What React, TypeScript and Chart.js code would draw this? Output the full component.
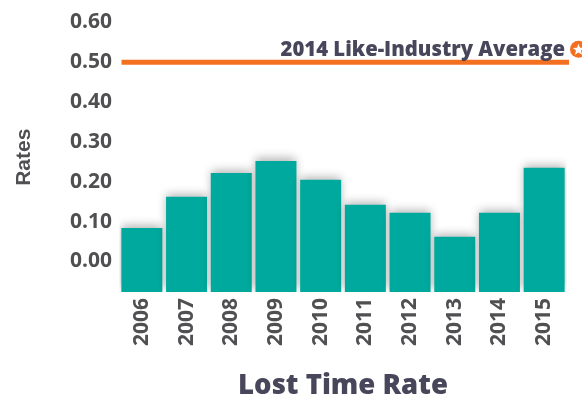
import React, { useEffect, useRef } from "react";
import { Chart, registerables } from "chart.js";

Chart.register(...registerables);

const years = ["2006", "2007", "2008", "2009", "2010", "2011", "2012", "2013", "2014", "2015"];
const lostTimeRates = [0.084, 0.162, 0.222, 0.252, 0.205, 0.142, 0.122, 0.062, 0.122, 0.235];
const yTickValues = [0, 0.1, 0.2, 0.3, 0.4, 0.5, 0.6];
const industryAverage = 0.5;
const industryAverageLabel = "2014 Like-Industry Average";
const axisMin = -0.077;
const axisMax = 0.6;

const TEAL = "#00a99d";
const ORANGE = "#f37021";
const SLATE = "#48465a";
const GRAY = "#505053";

const barShadow = {
  id: "barShadow",
  beforeDatasetDraw(chart: any) {
    const ctx = chart.ctx;
    ctx.save();
    ctx.shadowColor = "rgba(0,0,0,0.3)";
    ctx.shadowBlur = 9;
    ctx.shadowOffsetX = 0;
    ctx.shadowOffsetY = -3;
  },
  afterDatasetDraw(chart: any) {
    chart.ctx.restore();
  },
};

const averageLine = {
  id: "averageLine",
  afterDatasetsDraw(chart: any) {
    const { ctx, chartArea, scales } = chart;
    const y = scales.y.getPixelForValue(industryAverage);
    ctx.save();
    ctx.strokeStyle = ORANGE;
    ctx.lineWidth = 5;
    ctx.beginPath();
    ctx.moveTo(chartArea.left + 2, y);
    ctx.lineTo(chartArea.right + 2.5, y);
    ctx.stroke();

    ctx.fillStyle = SLATE;
    ctx.font = "800 20.3px 'Open Sans'";
    ctx.textAlign = "right";
    ctx.textBaseline = "alphabetic";
    ctx.fillText(industryAverageLabel, chartArea.right - 1.5, y - 6.5);

    // star badge
    const cx = chartArea.right + 12;
    const cy = y - 13;
    ctx.fillStyle = ORANGE;
    ctx.beginPath();
    ctx.arc(cx, cy, 8.5, 0, Math.PI * 2);
    ctx.fill();
    ctx.fillStyle = "#ffffff";
    ctx.beginPath();
    for (let i = 0; i < 10; i++) {
      const r = i % 2 === 0 ? 6 : 2.6;
      const a = -Math.PI / 2 + (i * Math.PI) / 5;
      const px = cx + r * Math.cos(a);
      const py = cy + 0.5 + r * Math.sin(a);
      if (i === 0) ctx.moveTo(px, py);
      else ctx.lineTo(px, py);
    }
    ctx.closePath();
    ctx.fill();
    ctx.restore();
  },
};

export default function App() {
  const canvasRef = useRef<HTMLCanvasElement | null>(null);

  useEffect(() => {
    const canvas = canvasRef.current;
    if (!canvas) return;
    const chart = new Chart(canvas, {
      type: "bar",
      data: {
        labels: years,
        datasets: [
          {
            data: lostTimeRates,
            base: axisMin,
            backgroundColor: TEAL,
            borderWidth: 0,
            barPercentage: 0.917,
            categoryPercentage: 1,
          } as any,
        ],
      },
      options: {
        animation: false,
        responsive: false,
        maintainAspectRatio: false,
        layout: { padding: { left: 0, right: 15.5, top: 22.5, bottom: 0 } },
        plugins: {
          legend: { display: false },
          tooltip: { enabled: false },
        },
        scales: {
          x: {
            grid: { display: false, drawTicks: false },
            border: { display: false },
            ticks: {
              color: GRAY,
              font: { family: "'Open Sans'", size: 21, weight: "700" },
              minRotation: 90,
              maxRotation: 90,
              padding: 6,
              autoSkip: false,
            },
            title: {
              display: true,
              text: "Lost Time Rate",
              color: SLATE,
              font: { family: "'Open Sans'", size: 27.5, weight: "800", lineHeight: 1 },
              padding: { top: 0, bottom: 0 },
            },
            afterFit(scale: any) {
              scale.height = 108;
            },
          },
          y: {
            min: axisMin,
            max: axisMax,
            grid: { display: false, drawTicks: false },
            border: { display: false },
            afterBuildTicks(scale: any) {
              scale.ticks = yTickValues.map((v) => ({ value: v }));
            },
            ticks: {
              color: GRAY,
              font: { family: "'Open Sans'", size: 21, weight: "700" },
              padding: 7.5,
              callback: (v: any) => Number(v).toFixed(2),
            },
            title: {
              display: true,
              text: "Rates",
              color: GRAY,
              font: { family: "'Liberation Sans'", size: 21, weight: "bold", lineHeight: 1 },
              padding: { top: 13.5, bottom: 0 },
            },
            afterFit(scale: any) {
              scale.width = 119.5;
            },
          },
        },
      },
      plugins: [barShadow, averageLine],
    });
    return () => chart.destroy();
  }, []);

  return (
    <div style={{ position: "absolute", left: 0, top: 0, width: 582, height: 400, background: "#ffffff" }}>
      <canvas ref={canvasRef} width={582} height={400} style={{ display: "block" }} />
    </div>
  );
}
